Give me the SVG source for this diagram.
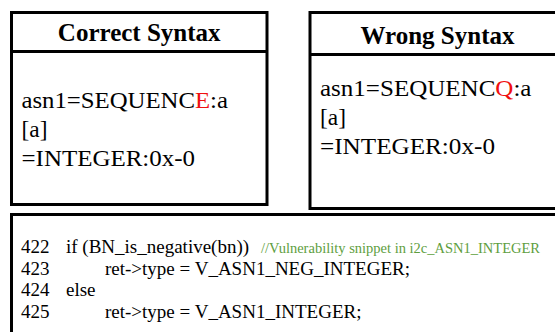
<svg xmlns="http://www.w3.org/2000/svg" width="555" height="332" viewBox="0 0 555 332">
<style>
.box{fill:#fff;stroke:#000;stroke-width:3}
.hdr{font-family:"Liberation Serif","Times New Roman",serif;font-weight:bold;font-size:25px;fill:#000;text-anchor:middle}
.body{font-family:"Liberation Serif","Times New Roman",serif;font-size:23.4px;fill:#000}
.red{fill:#f01010}
.code{font-family:"Liberation Serif","Times New Roman",serif;font-size:19px;fill:#000}
.cmt{font-family:"Liberation Serif","Times New Roman",serif;font-size:14.5px;fill:#5e9e3e}
</style>
<rect width="555" height="332" fill="#fff"/>
<g id="correct">
<rect class="box" x="11.5" y="12.5" width="255.5" height="192"/>
<line x1="11.5" y1="51.5" x2="267" y2="51.5" stroke="#000" stroke-width="3"/>
<text class="hdr" x="139.2" y="40.5">Correct Syntax</text>
<text class="body" x="21.5" y="107.5" textLength="206.5" lengthAdjust="spacingAndGlyphs">asn1=SEQUENC<tspan class="red">E</tspan>:a</text>
<text class="body" x="21.5" y="136.5">[a]</text>
<text class="body" x="21.5" y="165.5" textLength="173.5" lengthAdjust="spacingAndGlyphs">=INTEGER:0x-0</text>
</g>
<g id="wrong">
<rect class="box" x="310" y="12.5" width="260" height="196"/>
<line x1="310" y1="54.5" x2="570" y2="54.5" stroke="#000" stroke-width="3"/>
<text class="hdr" x="437.5" y="43.5">Wrong Syntax</text>
<text class="body" x="320" y="96" textLength="211.5" lengthAdjust="spacingAndGlyphs">asn1=SEQUENC<tspan class="red">Q</tspan>:a</text>
<text class="body" x="320" y="125">[a]</text>
<text class="body" x="320" y="154" textLength="175" lengthAdjust="spacingAndGlyphs">=INTEGER:0x-0</text>
</g>
<g id="code">
<rect class="box" x="11.5" y="214.5" width="560" height="130"/>
<text class="code" x="21" y="253">422</text>
<text class="code" x="66" y="253">if (BN_is_negative(bn))</text>
<text class="cmt" x="261" y="253">//Vulnerability snippet in i2c_ASN1_INTEGER</text>
<text class="code" x="21" y="274.5">423</text>
<text class="code" x="105" y="274.5">ret-&gt;type = V_ASN1_NEG_INTEGER;</text>
<text class="code" x="21" y="296">424</text>
<text class="code" x="66" y="296">else</text>
<text class="code" x="21" y="317.5">425</text>
<text class="code" x="105" y="317.5">ret-&gt;type = V_ASN1_INTEGER;</text>
</g>
<g id="connectors"></g>
</svg>
